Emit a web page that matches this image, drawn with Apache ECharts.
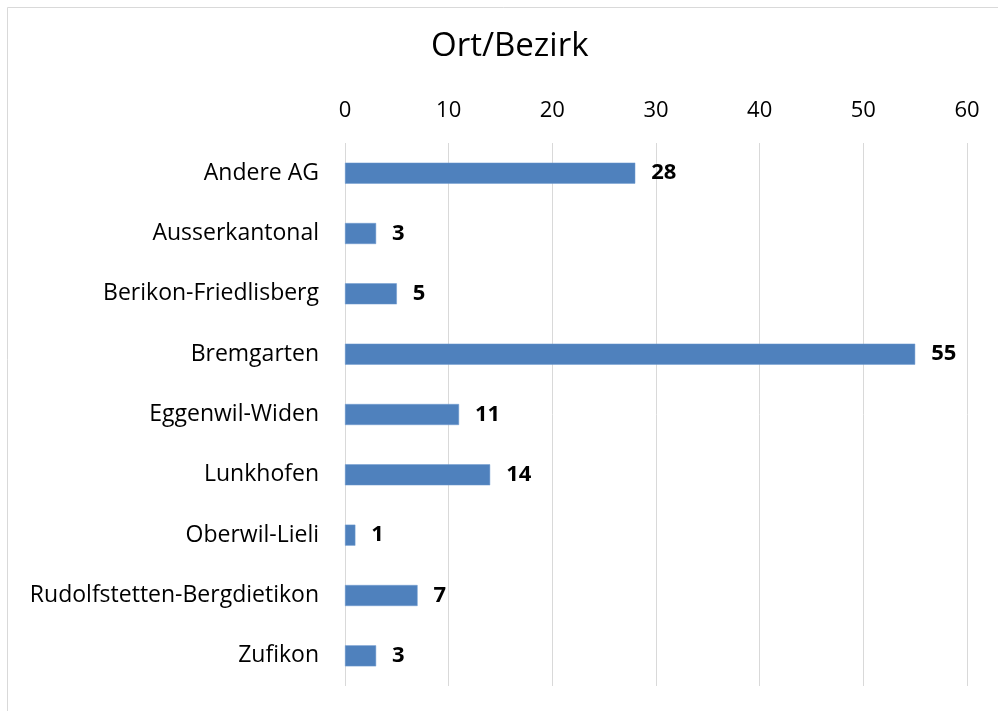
<!DOCTYPE html>
<html>
<head>
<meta charset="utf-8">
<script src="https://cdn.jsdelivr.net/npm/echarts@6/dist/echarts.min.js"></script>
<style>
  html, body { margin: 0; padding: 0; background: #fff; }
  #chart { width: 998px; height: 711px; }
</style>
</head>
<body>
<div id="chart"></div>
<script>
var categories = ['Andere AG', 'Ausserkantonal', 'Berikon-Friedlisberg', 'Bremgarten', 'Eggenwil-Widen',
    'Lunkhofen', 'Oberwil-Lieli', 'Rudolfstetten-Bergdietikon', 'Zufikon'];
var values = [28, 3, 5, 55, 11, 14, 1, 7, 3];
var ticks = [0, 10, 20, 30, 40, 50, 60];

var dom = document.getElementById('chart');
var myChart = echarts.init(dom);
var font = 'Open Sans, sans-serif';

var option = {
    backgroundColor: '#fff',
    animation: false,
    title: {
        text: 'Ort/Bezirk',
        left: 426,
        top: 25,
        textStyle: { fontFamily: font, fontSize: 33, fontWeight: 'normal', color: '#000' }
    },
    // chart area frame (only left/top edge visible)
    graphic: [{
        type: 'rect',
        shape: { x: 7.5, y: 7.5, width: 1100, height: 800 },
        style: { fill: 'none', stroke: '#d9d9d9', lineWidth: 1 },
        silent: true
    }],
    grid: { left: 345, right: 31, top: 143, bottom: 25 },
    xAxis: {
        type: 'value',
        position: 'top',
        min: ticks[0],
        max: ticks[ticks.length - 1],
        interval: 10,
        axisLine: { show: false },
        axisTick: { show: false },
        axisLabel: { fontFamily: font, fontSize: 22, color: '#000', margin: 21 },
        splitLine: { lineStyle: { color: '#d9d9d9', width: 1 } }
    },
    yAxis: {
        type: 'category',
        inverse: true,
        data: categories,
        axisLine: { show: false },
        axisTick: { show: false },
        axisLabel: { fontFamily: font, fontSize: 23, color: '#000', margin: 26 }
    },
    series: [{
        type: 'bar',
        data: values,
        barWidth: 21,
        itemStyle: { color: '#4f81bd', borderColor: '#6f9ad0', borderWidth: 0.5 },
        label: {
            show: true,
            position: 'right',
            distance: 16,
            fontFamily: font,
            fontSize: 22,
            fontWeight: 'bold',
            color: '#000'
        }
    }]
};

if (option && typeof option === 'object') {
    myChart.setOption(option, true);
}
</script>
</body>
</html>
